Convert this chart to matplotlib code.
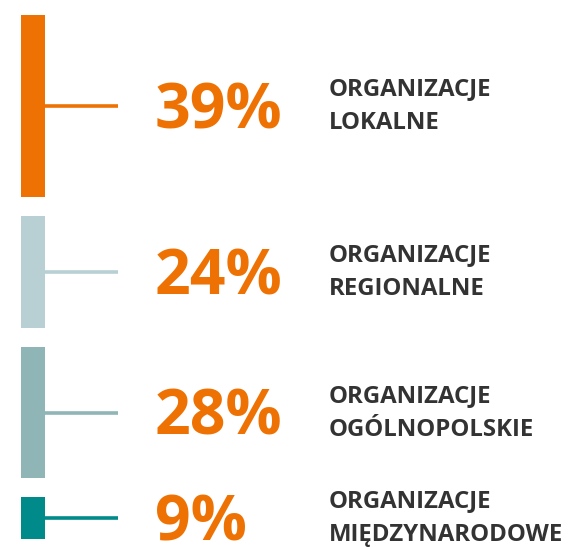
import matplotlib.pyplot as plt
import numpy as np

shares = [39, 24, 28, 9]
pct_labels = ["39%", "24%", "28%", "9%"]
names = ["ORGANIZACJE\nLOKALNE", "ORGANIZACJE\nREGIONALNE",
         "ORGANIZACJE\nOGÓLNOPOLSKIE", "ORGANIZACJE\nMIĘDZYNARODOWE"]
colors = ["#EE7203", "#B8CFD4", "#8FB5B7", "#008B8A"]

orange = "#EE7203"
gap = 4.1          # space between bars, in percent units
px_per_pct = 4.667

fig = plt.figure(figsize=(5.69, 5.47), dpi=100)
ax = fig.add_axes([0, 0, 1, 1])
ax.set_xlim(0, 569)
ax.set_ylim((547 - 15) / px_per_pct, -15 / px_per_pct)
ax.axis("off")

bottoms = np.concatenate([[0], np.cumsum(np.array(shares[:-1]) + gap)])
ax.bar(33, shares, width=24, bottom=bottoms, color=colors, align="center")

for b, v, c, p, n in zip(bottoms, shares, colors, pct_labels, names):
    mid = b + v / 2
    ax.plot([45, 118], [mid, mid], color=c, lw=2.6, solid_capstyle="butt")
    ax.text(155, mid - 0.4, p, fontsize=45, fontweight="bold", color=orange,
            family="Open Sans", va="center_baseline", ha="left")
    ax.text(329, mid, n, fontsize=17.3, fontweight="bold", color="#333333",
            family="Open Sans", va="center", ha="left", linespacing=1.55)

fig.savefig("out.png", dpi=100)
